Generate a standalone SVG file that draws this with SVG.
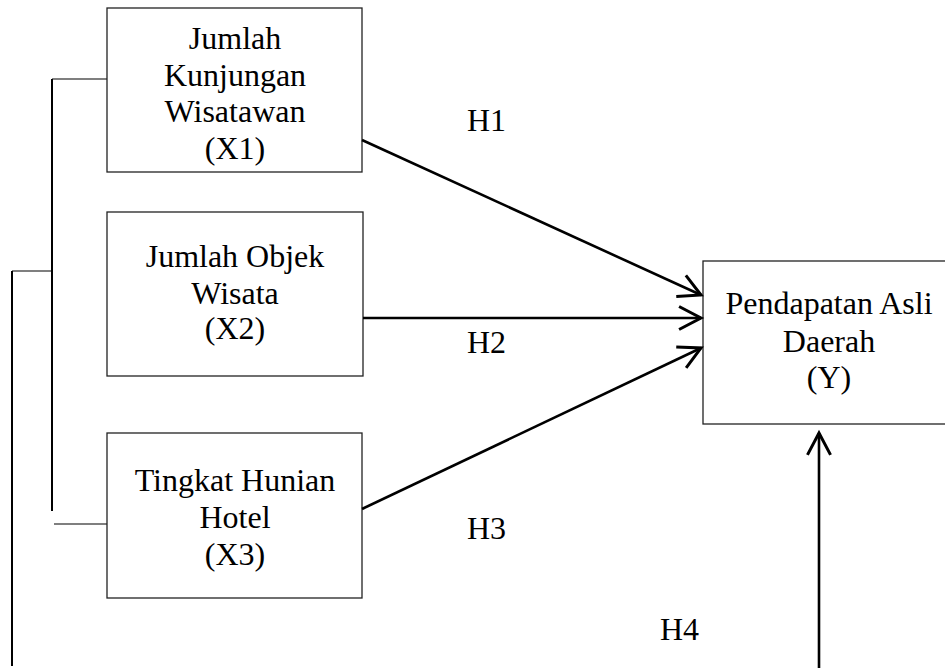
<svg xmlns="http://www.w3.org/2000/svg" width="945" height="672" viewBox="0 0 945 672">
<style>
  text { font-family: "Liberation Serif", "Times New Roman", serif; font-size: 32px; fill: #000; }
  .c { text-anchor: middle; }
  .box { fill: #fff; stroke: #222; stroke-width: 1.3; }
  .conn { stroke: #000; stroke-width: 2.6; fill: none; }
  .thin { stroke: #000; stroke-width: 1.2; fill: none; }
  .mid { stroke: #000; stroke-width: 2; fill: none; }
</style>
<defs>
  <marker id="arr" markerUnits="userSpaceOnUse" markerWidth="30" markerHeight="30" viewBox="-22 -13 26 26" refX="0" refY="0" orient="auto">
    <path d="M-19,-10 L0,0 L-19,10" fill="none" stroke="#000" stroke-width="2.6"/>
  </marker>
</defs>
<rect width="945" height="672" fill="#fff"/>
<g id="bracket">
  <path class="thin" d="M52,79 H107"/>
  <path class="mid" d="M52,79 V511"/>
  <path class="thin" d="M12,271 H52"/>
  <path class="mid" d="M12,271 V666"/>
  <path class="thin" d="M54,524 H107"/>
</g>
<g id="node-x1">
  <rect class="box" x="107" y="8" width="255" height="164"/>
  <text class="c" x="235" y="49">Jumlah</text>
  <text class="c" x="235" y="86">Kunjungan</text>
  <text class="c" x="235" y="122">Wisatawan</text>
  <text class="c" x="235" y="159">(X1)</text>
</g>
<g id="node-x2">
  <rect class="box" x="107" y="212" width="256" height="164"/>
  <text class="c" x="235" y="267">Jumlah Objek</text>
  <text class="c" x="235" y="304">Wisata</text>
  <text class="c" x="235" y="339">(X2)</text>
</g>
<g id="node-x3">
  <rect class="box" x="107" y="433" width="255" height="165"/>
  <text class="c" x="235" y="491">Tingkat Hunian</text>
  <text class="c" x="235" y="528">Hotel</text>
  <text class="c" x="235" y="565">(X3)</text>
</g>
<g id="node-y">
  <rect class="box" x="703" y="261" width="245" height="163"/>
  <text class="c" x="829" y="314">Pendapatan Asli</text>
  <text class="c" x="829" y="352">Daerah</text>
  <text class="c" x="829" y="388">(Y)</text>
</g>
<g id="connectors">
  <line class="conn" x1="362" y1="140" x2="701" y2="295" marker-end="url(#arr)"/>
  <line class="conn" x1="363" y1="318" x2="701" y2="318" marker-end="url(#arr)"/>
  <line class="conn" x1="362" y1="509" x2="701" y2="348" marker-end="url(#arr)"/>
  <line class="conn" x1="819" y1="668" x2="819" y2="433" marker-end="url(#arr)"/>
</g>
<g id="labels">
  <text x="467" y="131">H1</text>
  <text x="467" y="353">H2</text>
  <text x="467" y="539">H3</text>
  <text x="660" y="640">H4</text>
</g>
</svg>
